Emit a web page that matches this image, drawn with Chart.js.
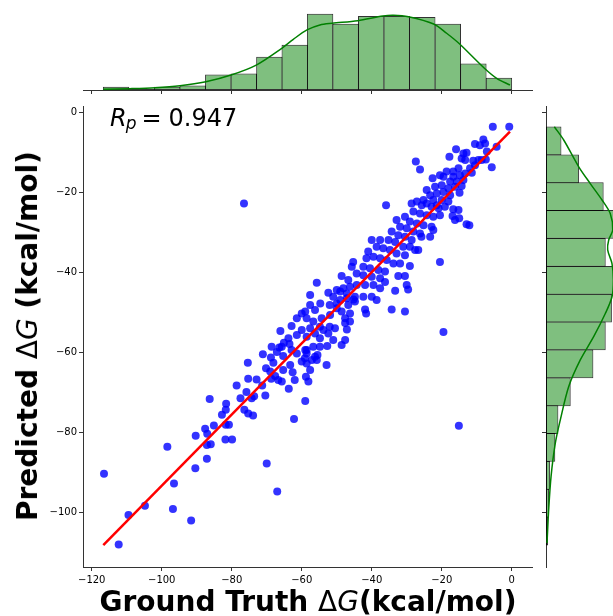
<!DOCTYPE html>
<html>
<head>
<meta charset="utf-8">
<script src="https://cdn.jsdelivr.net/npm/chart.js@4.4.1/dist/chart.umd.min.js"></script>
<style>
html, body { margin: 0; padding: 0; background: #fff; }
#wrap { position: relative; width: 613px; height: 616px; overflow: hidden; background: #fff; }
canvas { position: absolute; left: 0; top: 0; }
.lbl { position: absolute; white-space: nowrap; font-family: 'DejaVu Sans'; color: #000; line-height: 1; }
.lbl b { font-weight: bold; }
</style>
</head>
<body>
<div id="wrap">
  <canvas id="topHist" width="613" height="106"></canvas>
  <canvas id="rightHist" width="640" height="616"></canvas>
  <canvas id="main" width="613" height="640"></canvas>
  <div class="lbl" style="left:110px; top:106px; font-size:24px;"><i>R</i><span style="font-size:17px; position:relative; top:3px; margin-left:-1px;"><i>p</i></span><span style="margin-left:5px;">=</span><span style="margin-left:7px;">0.947</span></div>
  <div class="lbl" style="left:308px; top:588px; font-size:28px; transform:translateX(-50%);"><b>Ground Truth </b>Δ<i>G</i><b>(kcal/mol)</b></div>
  <div class="lbl" style="left:28px; top:336px; font-size:28px; transform:translate(-50%,-50%) rotate(-90deg);"><b>Predicted </b>Δ<i>G</i><b> (kcal/mol)</b></div>
</div>
<script>
// scatter: ground truth vs predicted (kcal/mol)
const gtValues = [
  -116.5,-112.3,-109.5,-104.8,-98.4,-96.5,-96.8,-91.6,-90.4,-87.1,
  -90.3,-87.6,-87,-87.1,-86,-85.1,-86.3,-82.8,-81.7,-81.6,
  -81.7,-80.8,-81.8,-79.9,-78.6,-77.5,-76.4,-75.3,-73.9,-75.8,
  -75.4,-75.3,-74.3,-73.6,-72.9,-71.3,-70.4,-71.1,-70,-67,
  -62.2,-66.1,-70.2,-68.7,-67.6,-65.7,-63.7,-63.3,-62.6,-62,
  -59,-66.4,-65.1,-63.5,-68.8,-68.1,-65.3,-62.9,-61.4,-60,
  -58.6,-58.6,-58.8,
  -57.6,-54.7,-52,-50,-56.2,-60,-58.6,-61.4,-56.7,-54.3,
  -51.9,-57.6,-56.2,-53.8,-52.4,-58.6,-54.8,-51,-56.7,-54.8,
  -52.7,-58.6,-59.1,-57.1,-55.7,-60,-61.4,-62.9,-63.8,-52.9,
  -57.6,-58.1,-55.5,-65.3,-66.7,-69,-67.1,-65.7,-68.6,-54.8,
  -48.6,-47.6,-47.1,-46.2,-47.6,-50.5,-52,-59,-56.2,-55.7,
  -57.6,-59,-52.4,-41.6,-49,-47.1,-45.2,-76.5,-19.5,-15.1,
  -35.9,-28.6,-27.1,-25.7,-24.3,-22.9,-21.4,-28.1,-26.2,-24.3,
  -22.4,-30.5,-29.1,-27.1,-25.2,-22.9,-32.9,-31.9,-30,-28.1,
  -26.2,-23.3,-22.4,-34.3,-32.4,-30.5,-28.6,-26.7,-27.6,-29.1,
  -31,-33.3,-35.2,-37.6,-40,-38.6,-36.7,-34.8,-32.9,-30.5,
  -41,-41.5,-39.5,-37.6,-35.7,-33.8,-31.9,-42.4,-40.5,-38.1,
  -36.2,-45.3,-45.7,-29.1,-44.3,-42.4,-40,-37.6,-48.6,-46.7,
  -32.4,-30.5,-30,-29.6,-33.3,-36.2,-50,-48.1,-46.2,-44.3,
  -41.9,-39.5,-37.6,-51,-49,-47.1,-44.8,-42.4,-40,-38.6,
  -50,-46.7,-44.8,-41.9,-34.3,-30.5,-47.6,-46.2,-48.6,-20.5,
  -5.4,-0.7,-4.3,-5.7,-10.5,-9.1,-7.6,-8.1,-7.1,-13.8,
  -12.9,-14.3,-13.3,-15.9,-17.8,-11,-9.5,-8.6,-7.4,-10.5,
  -11.9,-18.6,-20.5,-16.7,-15.2,-22.6,-19.5,-16.7,-14.8,-13.3,
  -11.4,-17.6,-15.7,-13.8,-24.3,-21.9,-20,-18.1,-16.2,-14.3,
  -23.3,-21.4,-19.5,-17.6,-14.9,-25.2,-22.4,-20,-18.1,-20.9,
  -19.1,-16.7,-15.2,-16.9,-16.2,-20.5,-12.9,-12.1,
  -27.4,-26.2,-25.8,-15
];
const predValues = [
  -90.3,-108,-100.6,-98.3,-83.5,-92.7,-99.1,-102,-88.9,-86.5,
  -80.8,-79,-80.3,-83.1,-82.9,-78.2,-71.6,-75.5,-74.3,-72.8,
  -78,-78,-81.7,-81.7,-68.2,-71.4,-74.3,-75.2,-75.7,-69.8,
  -62.5,-66.5,-71.4,-70.9,-66.7,-68.2,-70.7,-60.4,-87.7,-94.7,
  -76.6,-54.6,-63.9,-66.5,-65.8,-67.2,-69,-63.1,-64.9,-66.8,
  -72.1,-58.7,-57.5,-57.8,-61.2,-62.5,-60.8,-53.3,-55.6,-54.3,
  -60.2,-62.7,-66,
  -48.1,-47.7,-48.1,-48.9,-49.3,-50.2,-51.4,-51.4,-52.2,-51.4,
  -50.6,-53.9,-55.2,-54.3,-55.2,-56,-56.4,-56.8,-58.5,-58.5,
  -58.3,-59.3,-61.4,-61.8,-61.8,-62.2,-60.2,-59.3,-56.4,-63.1,
  -64.3,-67.2,-60.6,-64.3,-66.8,-64.7,-59.8,-58.5,-58.5,-53.5,
  -58.1,-56.8,-54.2,-52.2,-52.6,-53.9,-53.5,-59.3,-61,-42.5,
  -45.6,-49.7,-45,-50.2,-44.7,-45.2,-46.7,-22.7,-54.8,-78.3,
  -23.1,-22.7,-22.2,-23.1,-22.7,-23.5,-23.1,-24.7,-25.2,-25.6,
  -26,-26,-27.2,-27.7,-28.1,-28.5,-26.8,-28.5,-28.9,-29.7,
  -30.2,-31,-29.3,-29.7,-30.6,-31,-31.8,-34.3,-34.3,-33.5,
  -33.5,-32.3,-31.8,-31.8,-31.8,-33.5,-33.9,-34.3,-35.2,-35.6,
  -34.7,-36.4,-36,-36.4,-36.8,-37.7,-37.7,-38.5,-38.9,-39.3,
  -39.7,-37.3,-38.5,-38.3,-40.2,-40.6,-41,-41.4,-40.8,-41.8,
  -40.8,-40.8,-43.1,-44.2,-44.5,-42.3,-44.3,-43.9,-43.5,-43.1,
  -43.1,-43.1,-43.9,-46,-46.8,-46.4,-46,-46,-46,-46.8,
  -47.7,-48.1,-47.2,-49.2,-49.2,-49.7,-51.4,-50.2,-49.7,-37.3,
  -3.5,-3.5,-8.5,-13.6,-7.8,-8.1,-7.7,-6.7,-9.7,-10.2,
  -10,-11.4,-11.8,-9.1,-11,-12,-11.8,-11.8,-11.7,-13.1,
  -13.9,-14.7,-15.6,-14.7,-13.9,-16.4,-16,-16,-15.6,-15.2,
  -15,-17.2,-17.2,-16.8,-19.3,-18.5,-18.1,-18.9,-18.5,-18.3,
  -20.6,-20.2,-19.8,-20.6,-20,-21.8,-21.8,-21.8,-22.2,-23.9,
  -23.5,-24.1,-24.3,-25.8,-26.8,-25.6,-27.9,-28.1,
  -12.2,-14.2,-31,-26.4
];

// regression line end points
const fitX = [-116.7, -0.5];
const fitY = [-108.1, -4.7];

// top marginal histogram (ground truth)
const topEdges = [-116.7,-109.4,-102.1,-94.8,-87.5,-80.2,-72.9,-65.6,-58.4,-51.1,-43.8,-36.5,-29.2,-21.9,-14.6,-7.3,0];
const topCounts = [3,1,3,4,14,15,30,41,69,60,67,67,66,60,24,11];
const topKdeX = [-116.7,-109.1,-101.9,-94.8,-87.4,-80.2,-73.0,-65.7,-62.4,-58.5,-54.8,-51.3,-44.0,-36.8,-33.8,-29.5,-22.3,-18.6,-15.1,-7.8,-4.3,-0.5];
const topKde = [0.6,1.2,2.1,3.9,7.5,13.6,22.6,37.8,45.9,54.4,58.9,60.4,62.8,67.0,67.7,66.4,59.8,51.4,42.3,19.7,10.6,4.5];

// right marginal histogram (predicted)
const rightEdges = [-108.1,-101.1,-94.2,-87.2,-80.2,-73.3,-66.3,-59.3,-52.3,-45.4,-38.4,-31.4,-24.4,-17.5,-10.5,-3.5];
const rightCounts = [2,3,4,9,12,24,46,58,64,74,58,71,56,32,15];
const rightKdeY = [-3.5,-6.8,-13.5,-17.7,-21.8,-25.2,-29.3,-31.8,-34.3,-37.7,-41.8,-46,-50.2,-56,-61.8,-68.5,-76.8,-82.7,-91,-99.3,-107.6];
const rightKde = [8.1,17.2,31.8,43.0,54.4,62.4,64.8,60.9,59.9,64.1,65.4,64.1,57.6,46.3,33.3,22.0,13.9,9.0,4.9,2.6,1.0];

const xTicks = [-120,-100,-80,-60,-40,-20,0];
const yTicks = [-100,-80,-60,-40,-20,0];

Chart.defaults.font.family = 'DejaVu Sans';
Chart.defaults.font.size = 10;
Chart.defaults.color = '#000';

const axisLine = '#333';
const fmt = v => (v < 0 ? '\u2212' + Math.abs(v) : String(v));
const tickGrid = { drawOnChartArea: false, drawTicks: true, tickLength: 4, tickColor: axisLine, tickWidth: 1, offset: false };
const noPlugins = { legend: { display: false }, tooltip: { enabled: false } };

new Chart(document.getElementById('main'), {
  type: 'scatter',
  data: {
    datasets: [{
      type: 'line',
      data: fitX.map((x, i) => ({ x: x, y: fitY[i] })),
      borderColor: '#ff0000',
      borderWidth: 2.5,
      pointRadius: 0,
      fill: false
    }, {
      data: gtValues.map((x, i) => ({ x: x, y: predValues[i] })),
      backgroundColor: 'rgba(0,0,255,0.8)',
      borderWidth: 0,
      pointRadius: 4
    }]
  },
  options: {
    responsive: false,
    animation: false,
    layout: { autoPadding: false, padding: { left: 0, right: 81, top: 106, bottom: 0 } },
    plugins: noPlugins,
    scales: {
      x: {
        type: 'linear', min: -122.5, max: 5.8,
        afterFit: s => { s.height = 640 - 567; },
        afterBuildTicks: s => { s.ticks = xTicks.map(v => ({ value: v })); },
        grid: tickGrid,
        border: { display: true, color: axisLine, width: 1 },
        ticks: { callback: fmt, padding: 3, maxRotation: 0 }
      },
      y: {
        type: 'linear', min: -113.6, max: 1.7,
        afterFit: s => { s.width = 83; },
        afterBuildTicks: s => { s.ticks = yTicks.map(v => ({ value: v })); },
        grid: tickGrid,
        border: { display: true, color: axisLine, width: 1 },
        ticks: { callback: fmt, padding: 2 }
      }
    }
  }
});

new Chart(document.getElementById('topHist'), {
  type: 'bar',
  data: {
    datasets: [{
      type: 'line',
      data: topKdeX.map((x, i) => ({ x: x, y: topKde[i] })),
      borderColor: '#008000',
      borderWidth: 1.5,
      pointRadius: 0,
      tension: 0.3,
      fill: false
    }, {
      type: 'bar',
      data: topCounts.map((c, i) => ({ x: (topEdges[i] + topEdges[i + 1]) / 2, y: c })),
      backgroundColor: 'rgba(0,128,0,0.5)',
      borderColor: 'rgba(0,0,0,0.8)',
      borderWidth: 1,
      borderSkipped: false,
      barPercentage: 1.04,
      categoryPercentage: 1
    }]
  },
  options: {
    responsive: false,
    animation: false,
    layout: { autoPadding: false, padding: { left: 83, right: 81, top: 10, bottom: 0 } },
    plugins: noPlugins,
    scales: {
      x: {
        type: 'linear', min: -122.5, max: 5.8, offset: false,
        afterFit: s => { s.height = 106 - 90; },
        afterBuildTicks: s => { s.ticks = xTicks.map(v => ({ value: v })); },
        grid: tickGrid,
        border: { display: true, color: axisLine, width: 1 },
        ticks: { display: false }
      },
      y: { type: 'linear', display: false, min: 0, max: 72.45 }
    }
  }
});

new Chart(document.getElementById('rightHist'), {
  type: 'bar',
  data: {
    datasets: [{
      type: 'line',
      indexAxis: 'y',
      data: rightKdeY.map((y, i) => ({ x: rightKde[i], y: y })),
      borderColor: '#008000',
      borderWidth: 1.5,
      pointRadius: 0,
      tension: 0.3,
      fill: false
    }, {
      type: 'bar',
      indexAxis: 'y',
      data: rightCounts.map((c, i) => ({ y: (rightEdges[i] + rightEdges[i + 1]) / 2, x: c })),
      backgroundColor: 'rgba(0,128,0,0.5)',
      borderColor: 'rgba(0,0,0,0.8)',
      borderWidth: 1,
      borderSkipped: false,
      barPercentage: 1.036,
      categoryPercentage: 1
    }]
  },
  options: {
    indexAxis: 'y',
    responsive: false,
    animation: false,
    layout: { autoPadding: false, padding: { left: 500, right: 14, top: 106, bottom: 49 } },
    plugins: noPlugins,
    scales: {
      y: {
        type: 'linear', min: -113.6, max: 1.7, offset: false,
        afterFit: s => { s.width = 46; },
        afterBuildTicks: s => { s.ticks = yTicks.map(v => ({ value: v })); },
        grid: tickGrid,
        border: { display: true, color: axisLine, width: 1 },
        ticks: { display: false }
      },
      x: { type: 'linear', display: false, min: 0, max: 77.7 }
    }
  }
});
</script>
</body>
</html>
